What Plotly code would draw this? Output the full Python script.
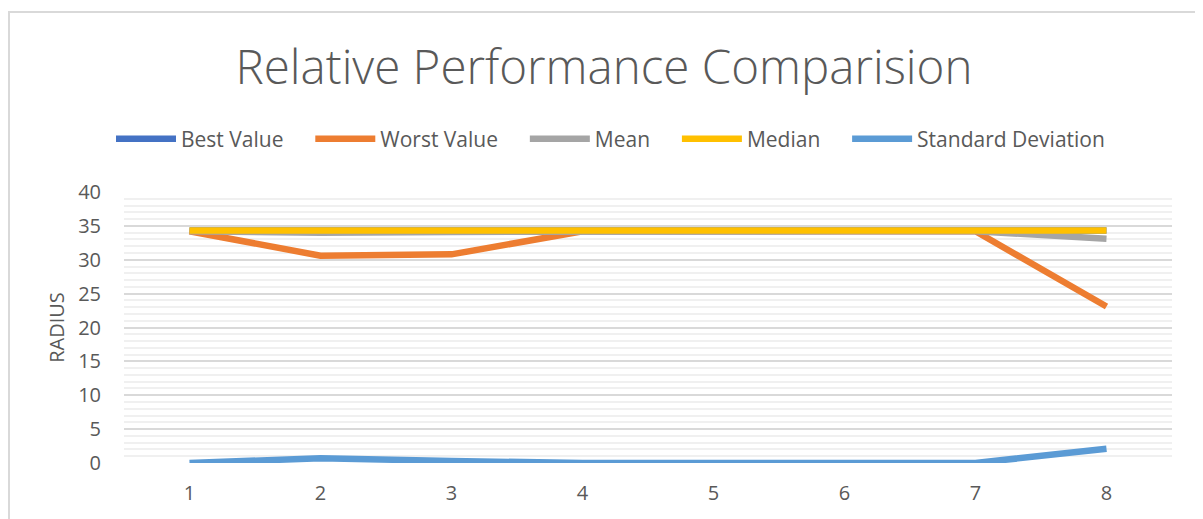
import plotly.graph_objects as go

categories = ["1", "2", "3", "4", "5", "6", "7", "8"]
best_value = [34.3, 34.3, 34.3, 34.3, 34.3, 34.3, 34.3, 34.3]
worst_value = [34.2, 30.6, 30.8, 34.2, 34.2, 34.2, 34.2, 23.1]
mean_value = [34.2, 34.0, 34.1, 34.2, 34.2, 34.2, 34.2, 33.1]
median_value = [34.3, 34.3, 34.3, 34.3, 34.3, 34.3, 34.3, 34.3]
std_dev = [0.0, 0.7, 0.3, 0.0, 0.0, 0.0, 0.0, 2.1]

series = [
    ("Best Value", best_value, "#4472C4"),
    ("Worst Value", worst_value, "#ED7D31"),
    ("Mean", mean_value, "#A5A5A5"),
    ("Median", median_value, "#FFC000"),
    ("Standard Deviation", std_dev, "#5B9BD5"),
]

PAD = "\u00a0" * 4

fig = go.Figure()
for name, vals, color in series:
    fig.add_trace(go.Scatter(x=categories, y=vals, name=name + PAD, mode="lines",
                             line=dict(color=color, width=6.5)))

# page offset compensation (body margin)
OX, OY = 8, 7
W, H = 1203 - OX, 519 - OY
L, R, T, B = 124 - OX, 1172 - OX, 191 - OY, 462 - OY
pw, ph = R - L, B - T

def px(x):
    return (x - OX - L) / pw

def py(y):
    return (B - (y - OY)) / ph

fig.update_layout(
    width=W, height=H,
    margin=dict(l=L, r=W - R, t=T, b=H - B),
    paper_bgcolor="white", plot_bgcolor="white",
    font=dict(family="Open Sans", color="#595959"),
    title=dict(text="Relative Performance Comparision", x=(604 - OX) / W, xanchor="center",
               y=1 - (66 - OY) / H, yanchor="middle",
               font=dict(size=47.5, color="#595959", family="Open Sans", weight=300)),
    legend=dict(orientation="h", x=px(111), xanchor="left", y=py(138), yanchor="middle",
                itemwidth=60, font=dict(size=21, color="#595959"),
                bgcolor="rgba(0,0,0,0)", traceorder="normal"),
    showlegend=True,
    xaxis=dict(type="category", range=[-0.5, 7.5], showgrid=False, zeroline=False,
               showline=False, ticks="", tickfont=dict(size=20, color="#595959"),
               ticklabelstandoff=16),
    yaxis=dict(range=[0, 40], dtick=5, tick0=0, showgrid=True, gridcolor="#d9d9d9",
               gridwidth=1.5, zeroline=False, showline=False, ticks="",
               tickfont=dict(size=20, color="#595959"), ticklabelstandoff=22,
               title=dict(text="RADIUS", font=dict(size=20, color="#595959"), standoff=8),
               minor=dict(dtick=1, showgrid=True, gridcolor="#f0f0f0", gridwidth=1.5)),
    shapes=[dict(type="rect", xref="paper", yref="paper",
                 x0=px(9), x1=px(1200), y0=py(540), y1=py(11),
                 line=dict(color="#d9d9d9", width=2), fillcolor="rgba(0,0,0,0)",
                 layer="below")],
)

fig.write_html("out.html")
